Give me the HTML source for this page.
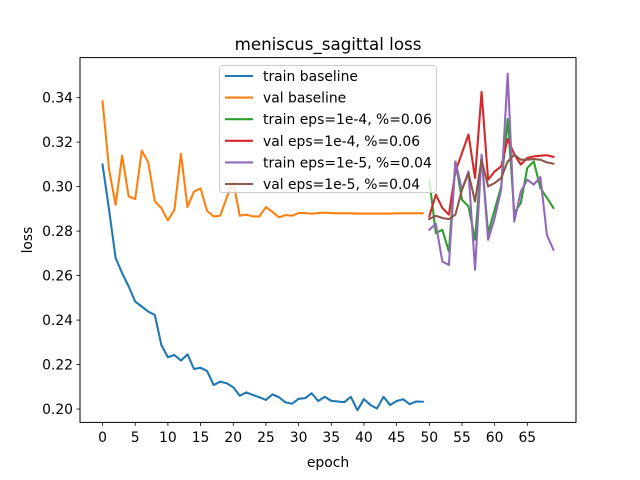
<!DOCTYPE html>
<html><head><meta charset="utf-8"><style>
body{margin:0;background:#fff}
svg{display:block;font-family:"DejaVu Sans","Liberation Sans",sans-serif}
</style></head><body>
<svg id="chart" width="640" height="480" viewBox="0 0 640 480">
<rect width="640" height="480" fill="#fff"/>
<text x="328" y="50" text-anchor="middle" font-size="16.7">meniscus_sagittal loss</text>
<g id="plot"></g>
<rect x="80" y="57.6" width="496" height="364.8" fill="none" stroke="#000" stroke-width="1"/>
<g id="xt"></g><g id="yt"></g>
<text x="328" y="467" text-anchor="middle" font-size="13.9">epoch</text>
<text transform="translate(32,240) rotate(-90)" text-anchor="middle" font-size="13.9">loss</text>
<g id="legend"></g>
</svg>
<script>
const trainBaseline=[0.3099,0.2896,0.2679,0.2611,0.2551,0.2483,0.2461,0.2438,0.2423,0.2288,0.2233,0.2243,0.2218,0.2246,0.2180,0.2186,0.2171,0.2108,0.2123,0.2116,0.2098,0.2060,0.2075,0.2063,0.2053,0.2041,0.2066,0.2053,0.2030,0.2024,0.2046,0.2049,0.2071,0.2036,0.2055,0.2037,0.2034,0.2031,0.2055,0.1995,0.2045,0.2018,0.2003,0.2055,0.2018,0.2036,0.2044,0.2022,0.2034,0.2033];
const valBaseline=[0.3384,0.3076,0.2918,0.3139,0.2956,0.2944,0.3162,0.3109,0.2934,0.2904,0.2848,0.2896,0.3147,0.2908,0.2978,0.2992,0.2891,0.2866,0.2869,0.2950,0.3023,0.2869,0.2874,0.2866,0.2866,0.2908,0.2886,0.2862,0.2872,0.2869,0.2881,0.2881,0.2878,0.2881,0.2883,0.2881,0.2880,0.2880,0.2880,0.2879,0.2879,0.2879,0.2879,0.2879,0.2879,0.2880,0.2880,0.2880,0.2880,0.2880];
const trainE4=[0.3031,0.2791,0.2806,0.2708,0.3113,0.2941,0.2911,0.2761,0.3136,0.2791,0.2896,0.3001,0.3304,0.2881,0.2926,0.3084,0.3113,0.2994,0.2949,0.2904];
const valE4=[0.2866,0.2964,0.2904,0.2874,0.3068,0.3151,0.3234,0.3039,0.3426,0.3031,0.3068,0.3091,0.3214,0.3146,0.3099,0.3129,0.3136,0.3139,0.3141,0.3134];
const trainE5=[0.2806,0.2833,0.2663,0.2648,0.3113,0.2986,0.3068,0.2626,0.3143,0.2761,0.2858,0.2986,0.3508,0.2843,0.2978,0.3031,0.3009,0.3043,0.2783,0.2716];
const valE5=[0.2854,0.2869,0.2859,0.2854,0.2874,0.2986,0.3061,0.2933,0.3121,0.3001,0.3016,0.3039,0.3113,0.3143,0.3121,0.3121,0.3124,0.3121,0.3109,0.3103];
const xTicks=[0,5,10,15,20,25,30,35,40,45,50,55,60,65];
const yTicks=[0.20,0.22,0.24,0.26,0.28,0.30,0.32,0.34];
const labels=["train baseline","val baseline","train eps=1e-4, %=0.06","val eps=1e-4, %=0.06","train eps=1e-5, %=0.04","val eps=1e-5, %=0.04"];
const colors=["#1f77b4","#ff7f0e","#2ca02c","#d62728","#9467bd","#8c564b"];
const NS="http://www.w3.org/2000/svg";
const X=e=>80+(e+3.45)*(496/75.9);
const Y=v=>422.4-(v-0.194)*(364.8/0.164);
function mk(t,a,p){const el=document.createElementNS(NS,t);for(const k in a)el.setAttribute(k,a[k]);p.appendChild(el);return el;}
const series=[[trainBaseline,0],[valBaseline,0],[trainE4,50],[valE4,50],[trainE5,50],[valE5,50]];
const plot=document.getElementById('plot');
const names=["train-baseline-line","val-baseline-line","train-eps-1e-4-line","val-eps-1e-4-line","train-eps-1e-5-line","val-eps-1e-5-line"];
series.forEach(([d,off],i)=>{
  const pl=mk('polyline',{points:d.map((v,j)=>X(j+off).toFixed(2)+','+Y(v).toFixed(2)).join(' '),fill:'none',stroke:colors[i],'stroke-width':2.08,'stroke-linejoin':'round','stroke-linecap':'square'},plot);
  
  
});
const xt=document.getElementById('xt');
xTicks.forEach(t=>{
  const g=mk('g',{},xt);
  
  
  mk('line',{x1:X(t),x2:X(t),y1:422.4,y2:425.9,stroke:'#000','stroke-width':0.8},g);
  const tx=mk('text',{x:X(t),y:442,'text-anchor':'middle','font-size':13.9},g);tx.textContent=t;
});
const yt=document.getElementById('yt');
yTicks.forEach(t=>{
  const g=mk('g',{},yt);
  
  
  mk('line',{x1:76.5,x2:80,y1:Y(t),y2:Y(t),stroke:'#000','stroke-width':0.8},g);
  const tx=mk('text',{x:73,y:Y(t)+5,'text-anchor':'end','font-size':13.9},g);tx.textContent=t.toFixed(2);
});
const lg=document.getElementById('legend');
mk('rect',{x:219.5,y:65.5,width:217,height:127,rx:3,fill:'#fff','fill-opacity':0.8,stroke:'#ccc'},lg);
labels.forEach((l,i)=>{
  const g=mk('g',{},lg);
  
  
  const yy=76+i*21.6;
  mk('line',{x1:225,x2:253,y1:yy,y2:yy,stroke:colors[i],'stroke-width':2.08},g);
  const tx=mk('text',{x:263,y:yy+5,'font-size':13.9},g);tx.textContent=l;
});
</script>
</body></html>
